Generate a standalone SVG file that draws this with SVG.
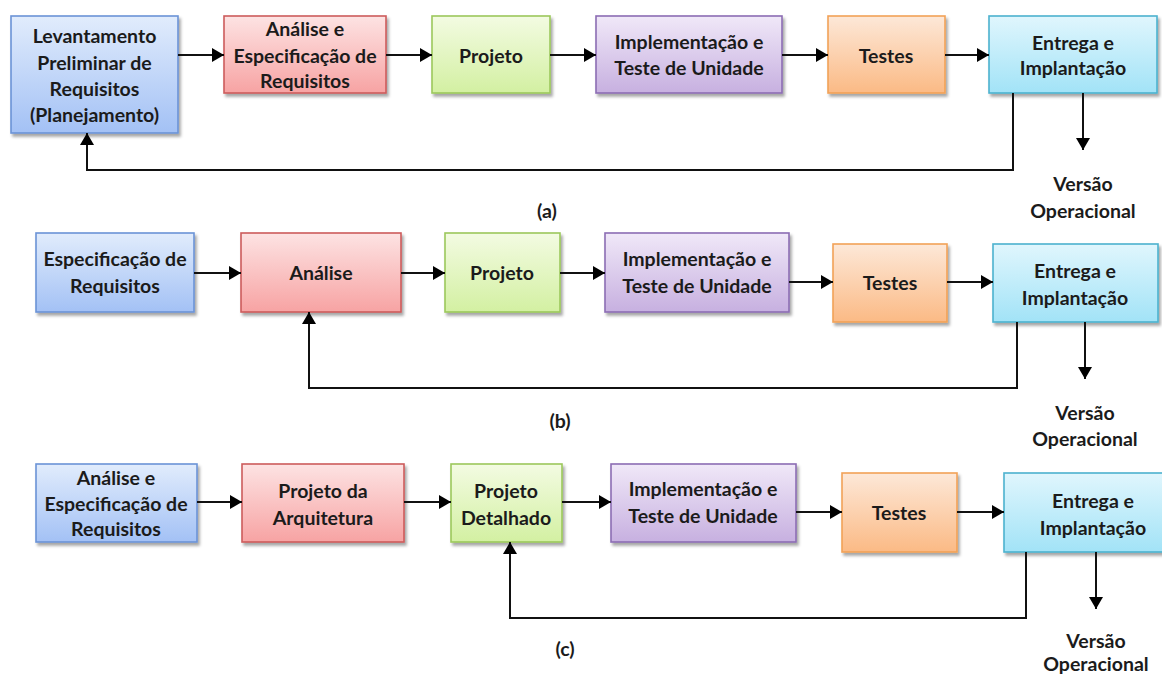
<svg xmlns="http://www.w3.org/2000/svg" width="1162" height="675" viewBox="0 0 1162 675">
  <defs>
    <linearGradient id="gBlue" x1="0" y1="0" x2="0" y2="1"><stop offset="0" stop-color="#e1ecfc"/><stop offset="1" stop-color="#a3c1f5"/></linearGradient>
    <linearGradient id="gRed" x1="0" y1="0" x2="0" y2="1"><stop offset="0" stop-color="#fde3e3"/><stop offset="1" stop-color="#f7a3a3"/></linearGradient>
    <linearGradient id="gGreen" x1="0" y1="0" x2="0" y2="1"><stop offset="0" stop-color="#f3fbe2"/><stop offset="1" stop-color="#d3f0a2"/></linearGradient>
    <linearGradient id="gPurple" x1="0" y1="0" x2="0" y2="1"><stop offset="0" stop-color="#f0e8f8"/><stop offset="1" stop-color="#c7b0e0"/></linearGradient>
    <linearGradient id="gOrange" x1="0" y1="0" x2="0" y2="1"><stop offset="0" stop-color="#fde8d8"/><stop offset="1" stop-color="#fbba85"/></linearGradient>
    <linearGradient id="gCyan" x1="0" y1="0" x2="0" y2="1"><stop offset="0" stop-color="#e0f6fd"/><stop offset="1" stop-color="#a2e3f7"/></linearGradient>
    <filter id="shadow" x="-10%" y="-10%" width="125%" height="130%">
      <feDropShadow dx="2" dy="3" stdDeviation="1.5" flood-color="#000" flood-opacity="0.35"/>
    </filter>
    <marker id="arrow" viewBox="0 0 12 14" refX="12" refY="7" markerWidth="12" markerHeight="14" markerUnits="userSpaceOnUse" orient="auto">
      <path d="M0,0 L12,7 L0,14 z" fill="#000"/>
    </marker>
  </defs>
  <style>
    .box { stroke-width: 1.6; filter: url(#shadow); }
    .blue { fill: url(#gBlue); stroke: #6b93d6; }
    .red { fill: url(#gRed); stroke: #cc5c5c; }
    .green { fill: url(#gGreen); stroke: #9cc85c; }
    .purple { fill: url(#gPurple); stroke: #8c6db3; }
    .orange { fill: url(#gOrange); stroke: #f2a257; }
    .cyan { fill: url(#gCyan); stroke: #4cb2cf; }
    text { font-family: Lato, "Open Sans", "DejaVu Sans", sans-serif; font-weight: bold; font-size: 19.5px; fill: #1b1b1b; text-anchor: middle; dominant-baseline: central; }
    .link { fill: none; stroke: #111; stroke-width: 2; }
  </style>

  <rect width="1162" height="675" fill="#ffffff"/>

  <!-- Row (a) -->
  <g id="a1"><rect class="box blue" x="11" y="16" width="167" height="117"/>
    <text x="94.5" y="35">Levantamento</text><text x="94.5" y="62">Preliminar de</text><text x="94.5" y="88">Requisitos</text><text x="94.5" y="114">(Planejamento)</text></g>
  <g id="a2"><rect class="box red" x="224" y="16" width="162" height="77"/>
    <text x="305" y="28">Análise e</text><text x="305" y="55">Especificação de</text><text x="305" y="80">Requisitos</text></g>
  <g id="a3"><rect class="box green" x="432" y="16" width="118" height="77"/>
    <text x="491" y="55">Projeto</text></g>
  <g id="a4"><rect class="box purple" x="596" y="16" width="186" height="77"/>
    <text x="689" y="41">Implementação e</text><text x="689" y="67">Teste de Unidade</text></g>
  <g id="a5"><rect class="box orange" x="828" y="16" width="117" height="77"/>
    <text x="886" y="55">Testes</text></g>
  <g id="a6"><rect class="box cyan" x="989" y="16" width="168" height="77"/>
    <text x="1073" y="42">Entrega e</text><text x="1073" y="67">Implantação</text></g>
  <g id="a-out"><text x="1083" y="183">Versão</text><text x="1083" y="210">Operacional</text></g>
  <text x="547" y="210">(a)</text>

  <!-- Row (b) -->
  <g id="b1"><rect class="box blue" x="36" y="233" width="158" height="79"/>
    <text x="115" y="258">Especificação de</text><text x="115" y="285">Requisitos</text></g>
  <g id="b2"><rect class="box red" x="241" y="233" width="160" height="79"/>
    <text x="321" y="272">Análise</text></g>
  <g id="b3"><rect class="box green" x="445" y="233" width="115" height="79"/>
    <text x="502" y="272">Projeto</text></g>
  <g id="b4"><rect class="box purple" x="605" y="233" width="184" height="79"/>
    <text x="697" y="258">Implementação e</text><text x="697" y="285">Teste de Unidade</text></g>
  <g id="b5"><rect class="box orange" x="833" y="244" width="114" height="78"/>
    <text x="890" y="282">Testes</text></g>
  <g id="b6"><rect class="box cyan" x="993" y="244" width="165" height="78"/>
    <text x="1075" y="270">Entrega e</text><text x="1075" y="297">Implantação</text></g>
  <g id="b-out"><text x="1085" y="412">Versão</text><text x="1085" y="438">Operacional</text></g>
  <text x="560" y="420">(b)</text>

  <!-- Row (c) -->
  <g id="c1"><rect class="box blue" x="36" y="464" width="161" height="78"/>
    <text x="116" y="477">Análise e</text><text x="116" y="503">Especificação de</text><text x="116" y="528">Requisitos</text></g>
  <g id="c2"><rect class="box red" x="242" y="464" width="162" height="78"/>
    <text x="323" y="490">Projeto da</text><text x="323" y="517">Arquitetura</text></g>
  <g id="c3"><rect class="box green" x="451" y="464" width="111" height="78"/>
    <text x="506" y="490">Projeto</text><text x="506" y="517">Detalhado</text></g>
  <g id="c4"><rect class="box purple" x="611" y="464" width="185" height="78"/>
    <text x="703" y="488">Implementação e</text><text x="703" y="515">Teste de Unidade</text></g>
  <g id="c5"><rect class="box orange" x="842" y="473" width="115" height="79"/>
    <text x="899" y="512">Testes</text></g>
  <g id="c6"><rect class="box cyan" x="1004" y="473" width="178" height="79"/>
    <text x="1093" y="500">Entrega e</text><text x="1093" y="527">Implantação</text></g>
  <g id="c-out"><text x="1096" y="640">Versão</text><text x="1096" y="663">Operacional</text></g>
  <text x="565" y="648">(c)</text>

  <!-- Connectors -->
  <g id="connectors">
    <path class="link" marker-end="url(#arrow)" d="M178,55 H224"/>
    <path class="link" marker-end="url(#arrow)" d="M386,55 H432"/>
    <path class="link" marker-end="url(#arrow)" d="M550,55 H596"/>
    <path class="link" marker-end="url(#arrow)" d="M782,55 H828"/>
    <path class="link" marker-end="url(#arrow)" d="M945,55 H989"/>
    <path class="link" marker-end="url(#arrow)" d="M1013,93 V170 H87 V133"/>
    <path class="link" marker-end="url(#arrow)" d="M1083,93 V150"/>

    <path class="link" marker-end="url(#arrow)" d="M194,273 H241"/>
    <path class="link" marker-end="url(#arrow)" d="M401,273 H445"/>
    <path class="link" marker-end="url(#arrow)" d="M560,273 H605"/>
    <path class="link" marker-end="url(#arrow)" d="M789,282 H833"/>
    <path class="link" marker-end="url(#arrow)" d="M947,282 H993"/>
    <path class="link" marker-end="url(#arrow)" d="M1017,322 V388 H309 V312"/>
    <path class="link" marker-end="url(#arrow)" d="M1085,322 V379"/>

    <path class="link" marker-end="url(#arrow)" d="M197,502 H242"/>
    <path class="link" marker-end="url(#arrow)" d="M404,502 H451"/>
    <path class="link" marker-end="url(#arrow)" d="M562,502 H611"/>
    <path class="link" marker-end="url(#arrow)" d="M796,512 H842"/>
    <path class="link" marker-end="url(#arrow)" d="M957,512 H1004"/>
    <path class="link" marker-end="url(#arrow)" d="M1026,552 V618 H510 V542"/>
    <path class="link" marker-end="url(#arrow)" d="M1096,552 V609"/>
  </g>
</svg>
